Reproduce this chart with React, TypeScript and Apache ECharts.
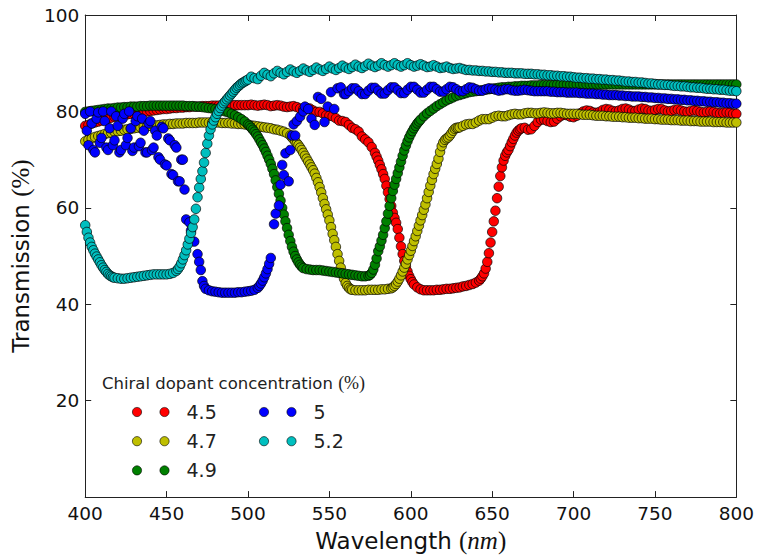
import { useEffect, useRef } from "react";
import * as echarts from "echarts";

// ---- Data: [wavelength (nm), transmission (%)] ----
const SERIES_NAMES = ["4.5", "4.7", "4.9", "5", "5.2"];
const SERIES_COLORS = ["#ff0000", "#bfbf00", "#008000", "#0000ff", "#00bfbf"];
const X_TICKS = [400, 450, 500, 550, 600, 650, 700, 750, 800];
const Y_TICKS = [0, 20, 40, 60, 80, 100];

const RED = [
  [400,77.0],[402,77.2],[404,77.5],[406,77.7],[408,77.9],[410,78.1],[412,78.3],[414,78.5],[416,78.7],[418,78.9],
  [420,79.0],[422,79.2],[424,79.3],[426,79.4],[428,79.5],[430,79.6],[432,79.7],[434,79.8],[436,79.9],[438,80.0],
  [440,80.1],[442,80.2],[444,80.3],[446,80.4],[448,80.5],[450,80.5],[452,80.6],[454,80.7],[456,80.7],[458,80.8],
  [460,80.8],[462,80.9],[464,80.9],[466,81.0],[468,81.0],[470,81.0],[472,81.1],[474,81.1],[476,81.1],[478,81.2],
  [480,81.2],[482,81.2],[484,81.2],[486,81.2],[488,81.3],[490,81.3],[492,81.3],[494,81.3],[496,81.3],[498,81.3],
  [500,81.3],[502,81.4],[504,81.3],[506,81.2],[508,81.3],[510,81.4],[512,81.3],[514,81.1],[516,81.2],[518,81.3],
  [520,81.2],[522,81.0],[524,80.9],[526,81.0],[528,81.1],[530,80.9],[532,80.6],[534,80.5],[536,80.7],[538,80.6],
  [540,80.2],[542,79.9],[544,79.9],[546,79.6],[548,79.2],[550,79.1],[552,79.0],[554,78.6],[556,78.1],[558,78.0],
  [560,77.8],[562,77.2],[564,76.6],[566,76.3],[568,75.8],[570,74.8],[572,74.2],[574,73.6],[576,72.6],[578,71.4],
  [579,70.6],[580,69.8],[581,68.9],[582,68.0],[583,67.0],[584,66.0],[585,64.6],[586,63.2],[587,61.8],[588,60.4],
  [589,59.0],[590,57.9],[591,56.9],[592,55.6],[593,53.8],[594,52.0],[595,50.4],[596,49.0],[597,47.8],[598,46.8],
  [599,45.9],[600,45.2],[601,44.6],[602,44.1],[604,43.5],[606,43.1],[608,42.9],[610,42.9],[612,42.9],[614,42.9],
  [616,43.0],[618,43.0],[620,43.1],[622,43.2],[624,43.2],[626,43.3],[628,43.4],[630,43.5],[632,43.7],[634,43.8],
  [636,44.0],[638,44.2],[640,44.5],[642,44.9],[643,45.3],[644,45.8],[645,46.4],[646,47.4],[647,48.8],[648,50.6],
  [649,52.8],[650,55.0],[651,57.2],[652,59.4],[653,62.0],[654,64.4],[655,66.6],[656,68.4],[657,69.8],[658,70.8],
  [659,71.5],[660,72.0],[661,72.8],[662,73.6],[663,74.3],[664,75.0],[665,75.6],[666,76.0],[667,76.3],[668,76.5],
  [670,76.6],[672,76.2],[674,76.3],[676,77.0],[678,77.8],[680,78.3],[682,78.3],[684,78.0],[686,77.8],[688,77.9],
  [690,78.5],[692,79.0],[694,79.3],[696,79.2],[698,78.9],[700,78.8],[702,79.1],[704,79.6],[706,80.0],[708,80.2],
  [710,80.1],[712,79.8],[714,79.7],[716,79.9],[718,80.3],[720,80.5],[722,80.4],[724,80.1],[726,80.0],[728,80.2],
  [730,80.5],[732,80.6],[734,80.4],[736,80.1],[738,80.1],[740,80.4],[742,80.6],[744,80.5],[746,80.2],[748,80.1],
  [750,80.3],[752,80.5],[754,80.5],[756,80.2],[758,80.0],[760,80.1],[762,80.3],[764,80.4],[766,80.2],[768,80.0],
  [770,79.9],[772,80.1],[774,80.2],[776,80.1],[778,79.9],[780,79.8],[782,79.9],[784,80.0],[786,79.9],[788,79.7],
  [790,79.6],[792,79.7],[794,79.8],[796,79.7],[798,79.5],[800,79.5],
];

const YELLOW = [
  [400,73.8],[402,74.1],[404,74.4],[406,74.7],[408,74.9],[410,75.1],[412,75.3],[414,75.5],[416,75.6],[418,75.8],
  [420,75.9],[422,76.0],[424,76.2],[426,76.3],[428,76.4],[430,76.5],[432,76.6],[434,76.7],[436,76.8],[438,76.9],
  [440,77.0],[442,77.1],[444,77.1],[446,77.2],[448,77.3],[450,77.3],[452,77.4],[454,77.4],[456,77.5],[458,77.5],
  [460,77.5],[462,77.6],[464,77.6],[466,77.6],[468,77.6],[470,77.7],[472,77.7],[474,77.7],[476,77.7],[478,77.7],
  [480,77.7],[482,77.7],[484,77.6],[486,77.6],[488,77.6],[490,77.5],[492,77.5],[494,77.4],[496,77.4],[498,77.3],
  [500,77.2],[502,77.1],[504,77.0],[506,76.9],[508,76.8],[510,76.7],[512,76.6],[514,76.5],[516,76.3],[518,76.2],
  [520,76.0],[522,75.8],[524,75.5],[526,75.0],[527,74.6],[528,74.2],[529,73.8],[530,73.4],[531,73.0],[532,72.5],
  [533,72.0],[534,71.4],[535,70.8],[536,70.2],[537,69.6],[538,69.0],[539,68.4],[540,67.8],[541,67.1],[542,66.2],
  [543,65.3],[544,64.3],[545,63.2],[546,62.0],[547,60.8],[548,59.7],[549,58.6],[550,57.4],[551,56.0],[552,54.6],
  [553,53.3],[554,51.9],[555,50.4],[556,49.0],[557,47.6],[558,46.4],[559,45.3],[560,44.4],[561,43.8],[562,43.4],
  [563,43.1],[564,43.0],[566,42.9],[568,42.9],[570,42.9],[572,42.9],[574,43.0],[576,43.0],[578,43.0],[580,43.0],
  [582,43.1],[584,43.1],[586,43.2],[588,43.3],[589,43.5],[590,43.8],[591,44.2],[592,44.7],[593,45.3],[594,46.0],
  [595,46.8],[596,47.6],[597,48.4],[598,49.3],[599,50.2],[600,51.1],[601,52.1],[602,53.1],[603,54.1],[604,55.2],
  [605,56.3],[606,57.4],[607,58.5],[608,59.6],[609,60.7],[610,62.0],[611,63.3],[612,64.6],[613,65.8],[614,67.0],
  [615,68.1],[616,69.1],[617,70.2],[618,71.6],[619,72.8],[620,73.6],[621,74.1],[622,74.4],[623,74.6],[624,75.0],
  [625,75.5],[626,76.0],[627,76.4],[628,76.6],[629,76.6],[630,76.7],[632,77.0],[634,77.3],[636,77.4],[638,77.4],
  [640,77.7],[642,78.1],[644,78.4],[646,78.4],[648,78.4],[650,78.7],[652,79.0],[654,79.1],[656,79.0],[658,79.0],
  [660,79.2],[662,79.4],[664,79.5],[666,79.4],[668,79.4],[670,79.6],[672,79.7],[674,79.7],[676,79.6],[678,79.6],
  [680,79.7],[682,79.8],[684,79.7],[686,79.6],[688,79.6],[690,79.7],[692,79.7],[694,79.6],[696,79.5],[698,79.5],
  [700,79.5],[702,79.5],[704,79.4],[706,79.3],[708,79.3],[710,79.3],[712,79.2],[714,79.1],[716,79.1],[718,79.1],
  [720,79.0],[722,79.0],[724,78.9],[726,78.9],[728,78.9],[730,78.8],[732,78.8],[734,78.7],[736,78.7],[738,78.7],
  [740,78.6],[742,78.6],[744,78.5],[746,78.5],[748,78.5],[750,78.4],[752,78.4],[754,78.3],[756,78.3],[758,78.3],
  [760,78.2],[762,78.2],[764,78.2],[766,78.1],[768,78.1],[770,78.1],[772,78.0],[774,78.0],[776,78.0],[778,77.9],
  [780,77.9],[782,77.9],[784,77.9],[786,77.8],[788,77.8],[790,77.8],[792,77.8],[794,77.7],[796,77.7],[798,77.7],
  [800,77.7],
];

const GREEN = [
  [400,79.9],[402,80.0],[404,80.1],[406,80.2],[408,80.3],[410,80.4],[412,80.5],[414,80.6],[416,80.6],[418,80.7],
  [420,80.8],[422,80.8],[424,80.9],[426,80.9],[428,81.0],[430,81.0],[432,81.0],[434,81.1],[436,81.1],[438,81.1],
  [440,81.2],[442,81.2],[444,81.2],[446,81.2],[448,81.2],[450,81.2],[452,81.2],[454,81.2],[456,81.2],[458,81.2],
  [460,81.2],[462,81.1],[464,81.1],[466,81.1],[468,81.0],[470,81.0],[472,80.9],[474,80.8],[476,80.7],[478,80.6],
  [480,80.5],[482,80.4],[484,80.2],[486,80.0],[488,79.8],[490,79.5],[492,79.2],[494,78.8],[496,78.4],[498,77.9],
  [500,77.3],[501,77.0],[502,76.6],[503,76.2],[504,75.8],[505,75.3],[506,74.8],[507,74.2],[508,73.6],[509,73.0],
  [510,72.3],[511,71.6],[512,70.8],[513,70.0],[514,69.1],[515,68.1],[516,67.0],[517,65.7],[518,64.3],[519,62.9],
  [520,61.5],[521,60.0],[522,58.6],[523,57.2],[524,55.8],[525,54.4],[526,53.1],[527,51.9],[528,50.9],[529,50.0],
  [530,49.3],[531,48.7],[532,48.2],[533,47.8],[534,47.5],[536,47.3],[538,47.2],[540,47.1],[542,47.1],[544,47.1],
  [546,47.0],[548,46.9],[550,46.8],[552,46.7],[554,46.6],[556,46.5],[558,46.4],[560,46.3],[562,46.2],[564,46.1],
  [566,46.0],[568,45.9],[570,45.8],[572,45.8],[574,45.9],[575,46.1],[576,46.5],[577,47.2],[578,48.2],[579,49.5],
  [580,51.0],[581,52.0],[582,53.2],[583,54.4],[584,55.8],[585,57.2],[586,58.8],[587,60.4],[588,62.0],[589,63.5],
  [590,64.8],[591,66.0],[592,67.2],[593,68.4],[594,69.6],[595,70.8],[596,71.9],[597,72.9],[598,73.8],[599,74.6],
  [600,75.3],[601,75.9],[602,76.5],[603,77.0],[604,77.5],[605,77.9],[606,78.3],[608,79.0],[610,79.6],[612,80.1],
  [614,80.6],[616,81.1],[618,81.5],[620,81.9],[622,82.3],[624,82.6],[626,82.9],[628,83.2],[630,83.4],[632,83.6],
  [634,83.8],[636,84.0],[638,84.1],[640,84.2],[642,84.3],[644,84.4],[646,84.5],[648,84.6],[650,84.7],[652,84.8],
  [654,84.9],[656,85.0],[658,85.0],[660,85.1],[662,85.1],[664,85.2],[666,85.2],[668,85.3],[670,85.3],[672,85.3],
  [674,85.4],[676,85.4],[678,85.4],[680,85.5],[682,85.5],[684,85.5],[686,85.5],[688,85.5],[690,85.6],[692,85.6],
  [694,85.6],[696,85.6],[698,85.6],[700,85.6],[702,85.6],[704,85.6],[706,85.6],[708,85.6],[710,85.6],[712,85.6],
  [714,85.6],[716,85.6],[718,85.6],[720,85.6],[722,85.6],[724,85.6],[726,85.6],[728,85.6],[730,85.6],[732,85.6],
  [734,85.6],[736,85.6],[738,85.6],[740,85.6],[742,85.6],[744,85.6],[746,85.6],[748,85.6],[750,85.6],[752,85.6],
  [754,85.6],[756,85.6],[758,85.6],[760,85.6],[762,85.6],[764,85.6],[766,85.6],[768,85.6],[770,85.6],[772,85.6],
  [774,85.6],[776,85.6],[778,85.6],[780,85.6],[782,85.6],[784,85.6],[786,85.6],[788,85.6],[790,85.6],[792,85.6],
  [794,85.6],[796,85.6],[798,85.6],[800,85.6],
];

const BLUE = [
  [400,79.5],[401,76.0],[402,73.0],[403,80.0],[404,77.5],[405,72.0],[406,71.5],[407,78.5],[408,79.8],[409,73.5],
  [410,74.5],[411,80.0],[412,78.0],[413,72.5],[414,72.0],[415,76.5],[416,80.0],[417,73.0],[418,74.0],[419,79.0],
  [420,77.0],[421,71.5],[422,72.0],[423,78.5],[424,79.5],[425,73.0],[426,74.5],[427,80.0],[428,76.5],[429,71.8],
  [430,72.5],[431,78.0],[432,79.0],[433,72.8],[434,73.5],[435,78.5],[436,76.0],[437,71.5],[438,71.5],[439,77.5],
  [440,78.0],[441,72.0],[442,72.5],[443,76.0],[444,75.0],[445,70.5],[446,70.0],[447,76.8],[448,76.5],[449,69.0],
  [450,68.8],[451,74.4],[452,74.0],[453,67.0],[454,66.8],[455,73.0],[456,72.5],[457,65.5],[458,65.5],[459,70.0],
  [460,70.0],[461,63.8],[462,57.6],[464,57.0],[465,55.3],[467,53.0],[469,50.4],[470,48.8],[471,47.1],[472,44.8],
  [473,43.8],[474,43.2],[476,42.9],[478,42.7],[480,42.6],[482,42.5],[484,42.4],[486,42.4],[488,42.4],[490,42.4],
  [492,42.4],[494,42.5],[496,42.5],[498,42.6],[500,42.7],[502,42.8],[504,43.0],[506,43.4],[507,43.8],[508,44.3],
  [509,44.9],[510,45.6],[511,46.4],[512,47.3],[513,48.4],[514,49.6],[516,56.6],[517,58.8],[519,60.5],[520,64.8],
  [521,68.9],[522,66.8],[523,71.3],[525,65.5],[526,72.0],[527,75.0],[528,77.3],[529,75.0],[530,78.0],[532,78.9],
  [534,80.0],[535,81.0],[537,80.5],[539,78.5],[541,77.2],[543,83.0],[545,82.6],[547,77.8],[549,81.0],[551,84.0],
  [553,80.5],[555,84.8],[557,85.0],[559,83.6],[560,83.6],[562,84.2],[564,84.8],[566,84.8],[568,84.2],[570,83.6],
  [572,83.6],[574,84.3],[576,84.9],[578,84.9],[580,84.3],[582,83.7],[584,83.7],[586,84.4],[588,85.0],[590,85.0],
  [592,84.4],[594,83.8],[596,83.8],[598,84.5],[600,85.1],[602,85.1],[604,84.5],[606,83.9],[608,83.9],[610,84.5],
  [612,85.1],[614,85.1],[616,84.6],[618,84.1],[620,84.1],[622,84.6],[624,85.1],[626,85.0],[628,84.6],[630,84.2],
  [632,84.2],[634,84.6],[636,85.0],[638,84.9],[640,84.6],[642,84.3],[644,84.3],[646,84.6],[648,84.8],[650,84.7],
  [652,84.5],[654,84.3],[656,84.4],[658,84.6],[660,84.6],[662,84.4],[664,84.3],[666,84.3],[668,84.4],[670,84.5],
  [672,84.4],[674,84.3],[676,84.2],[678,84.2],[680,84.2],[682,84.2],[684,84.2],[686,84.1],[688,84.1],[690,84.0],
  [692,84.0],[694,84.0],[696,83.9],[698,83.9],[700,83.9],[702,83.9],[704,83.8],[706,83.8],[708,83.7],[710,83.7],
  [712,83.7],[714,83.6],[716,83.6],[718,83.5],[720,83.5],[722,83.4],[724,83.4],[726,83.4],[728,83.3],[730,83.3],
  [732,83.2],[734,83.2],[736,83.1],[738,83.1],[740,83.1],[742,83.0],[744,83.0],[746,82.9],[748,82.9],[750,82.8],
  [752,82.8],[754,82.7],[756,82.7],[758,82.6],[760,82.6],[762,82.5],[764,82.5],[766,82.4],[768,82.4],[770,82.3],
  [772,82.3],[774,82.2],[776,82.2],[778,82.1],[780,82.1],[782,82.0],[784,82.0],[786,81.9],[788,81.9],[790,81.8],
  [792,81.8],[794,81.7],[796,81.7],[798,81.6],[800,81.6],
];

const CYAN = [
  [400,56.4],[401,55.0],[402,53.8],[403,52.8],[404,51.9],[405,51.2],[406,50.5],[407,49.9],[408,49.3],[409,48.7],
  [410,48.1],[411,47.6],[412,47.1],[413,46.7],[414,46.3],[415,46.0],[416,45.8],[417,45.6],[418,45.5],[420,45.4],
  [422,45.3],[424,45.3],[426,45.4],[428,45.5],[430,45.6],[432,45.7],[434,45.8],[436,45.9],[438,46.0],[440,46.1],
  [442,46.2],[444,46.2],[446,46.2],[448,46.2],[450,46.2],[452,46.3],[454,46.5],[456,46.9],[457,47.3],[458,47.8],
  [459,48.5],[460,49.3],[461,50.2],[462,51.2],[463,52.4],[464,53.6],[465,54.8],[466,56.0],[467,57.6],[468,59.8],
  [469,62.2],[470,64.2],[471,66.0],[472,67.6],[473,69.4],[474,71.4],[475,73.3],[476,75.0],[477,76.3],[478,77.3],
  [479,78.1],[480,78.8],[481,79.5],[482,80.1],[483,80.7],[484,81.2],[485,81.7],[486,82.1],[487,82.5],[488,82.9],
  [489,83.3],[490,83.7],[491,84.1],[492,84.5],[493,84.9],[494,85.2],[495,85.5],[496,85.8],[497,86.0],[498,86.2],
  [499,86.4],[500,86.6],[502,87.2],[504,86.9],[506,86.7],[508,87.4],[510,88.0],[512,87.6],[514,87.3],[516,87.9],
  [518,88.4],[520,88.0],[522,87.7],[524,88.2],[526,88.7],[528,88.3],[530,88.0],[532,88.4],[534,88.9],[536,88.5],
  [538,88.2],[540,88.6],[542,89.1],[544,88.7],[546,88.4],[548,88.8],[550,89.3],[552,88.9],[554,88.6],[556,89.0],
  [558,89.5],[560,89.1],[562,88.8],[564,89.2],[566,89.7],[568,89.3],[570,89.0],[572,89.4],[574,89.9],[576,89.5],
  [578,89.2],[580,89.5],[582,90.0],[584,89.6],[586,89.3],[588,89.6],[590,90.0],[592,89.6],[594,89.3],[596,89.6],
  [598,90.0],[600,89.6],[602,89.3],[604,89.5],[606,89.8],[608,89.5],[610,89.2],[612,89.3],[614,89.6],[616,89.3],
  [618,89.0],[620,89.1],[622,89.3],[624,89.0],[626,88.8],[628,88.9],[630,89.0],[632,88.8],[634,88.6],[636,88.6],
  [638,88.5],[640,88.5],[642,88.4],[644,88.4],[646,88.3],[648,88.3],[650,88.2],[652,88.2],[654,88.1],[656,88.1],
  [658,88.0],[660,88.0],[662,88.0],[664,87.9],[666,87.9],[668,87.9],[670,87.8],[672,87.8],[674,87.8],[676,87.7],
  [678,87.7],[680,87.6],[682,87.6],[684,87.5],[686,87.5],[688,87.4],[690,87.4],[692,87.3],[694,87.3],[696,87.2],
  [698,87.2],[700,87.1],[702,87.0],[704,87.0],[706,86.9],[708,86.9],[710,86.8],[712,86.8],[714,86.7],[716,86.7],
  [718,86.6],[720,86.6],[722,86.5],[724,86.5],[726,86.4],[728,86.4],[730,86.3],[732,86.2],[734,86.2],[736,86.1],
  [738,86.1],[740,86.0],[742,86.0],[744,85.9],[746,85.8],[748,85.8],[750,85.7],[752,85.6],[754,85.6],[756,85.5],
  [758,85.5],[760,85.4],[762,85.3],[764,85.3],[766,85.2],[768,85.2],[770,85.1],[772,85.0],[774,85.0],[776,84.9],
  [778,84.9],[780,84.8],[782,84.7],[784,84.7],[786,84.6],[788,84.6],[790,84.5],[792,84.5],[794,84.4],[796,84.3],
  [798,84.3],[800,84.2],
];

const SERIES_DATA = [RED, YELLOW, GREEN, BLUE, CYAN];

const SANS = "DejaVu Sans";
const SERIF = "Liberation Serif";
const AXIS_COLOR = "#222";

function buildOption() {
  const common = {
    axisLine: { show: true, onZero: false, lineStyle: { color: AXIS_COLOR, width: 1 } },
    axisTick: { show: true, inside: true, length: 6, lineStyle: { color: AXIS_COLOR, width: 1 } },
    splitLine: { show: false },
  };
  const xBase = { type: "value", min: X_TICKS[0], max: X_TICKS[X_TICKS.length - 1], interval: X_TICKS[1] - X_TICKS[0], ...common };
  const yBase = { type: "value", min: Y_TICKS[0], max: Y_TICKS[Y_TICKS.length - 1], interval: Y_TICKS[1] - Y_TICKS[0], ...common };

  // Legend drawn as graphic (two markers per entry, two columns)
  const legendEls: any[] = [];
  legendEls.push({
    type: "text",
    left: 102,
    top: 374,
    style: {
      text: "Chiral dopant concentration {m|(%)}",
      fontFamily: SANS,
      fontSize: 16.5,
      fill: "#222",
      rich: { m: { fontFamily: SERIF, fontSize: 18, fill: "#222" } },
    },
  });
  SERIES_NAMES.forEach((name, i) => {
    const col = i < 3 ? 0 : 1;
    const row = i < 3 ? i : i - 3;
    const x0 = col === 0 ? 137 : 264;
    const y0 = 412 + row * 29.2;
    [0, 27.5].forEach((dx) => {
      legendEls.push({
        type: "circle",
        shape: { cx: x0 + dx, cy: y0, r: 4.6 },
        style: { fill: SERIES_COLORS[i], stroke: "#000", lineWidth: 0.6 },
      });
    });
    legendEls.push({
      type: "text",
      x: x0 + 49.5,
      y: y0,
      style: { text: name, fontFamily: SANS, fontSize: 19, fill: "#222", verticalAlign: "middle", textAlign: "left" },
    });
  });

  return {
    animation: false,
    backgroundColor: "#ffffff",
    grid: { left: 83, right: 20, top: 15, bottom: 55, containLabel: false },
    xAxis: [
      {
        ...xBase,
        position: "bottom",
        axisLabel: { show: true, fontFamily: SANS, fontSize: 18.5, color: "#111", margin: 7 },
        name: "Wavelength {p|(}{i|nm}{p|)}",
        nameLocation: "middle",
        nameGap: 29,
        nameTextStyle: {
          fontFamily: SANS,
          fontSize: 23,
          color: "#111",
          rich: {
            p: { fontFamily: SERIF, fontSize: 25, color: "#111" },
            i: { fontFamily: SERIF, fontStyle: "italic", fontSize: 25, color: "#111" },
          },
        },
      },
      { ...xBase, position: "top", axisLabel: { show: false } },
    ],
    yAxis: [
      {
        ...yBase,
        position: "left",
        axisLabel: {
          show: true,
          fontFamily: SANS,
          fontSize: 18.5,
          color: "#111",
          margin: 6,
          formatter: (v: number) => (v === 0 ? "" : String(v)),
        },
        name: "Transmission {p|(%)}",
        nameLocation: "middle",
        nameGap: 47,
        nameTextStyle: {
          fontFamily: SANS,
          fontSize: 23,
          color: "#111",
          rich: { p: { fontFamily: SERIF, fontSize: 25, color: "#111" } },
        },
      },
      { ...yBase, position: "right", axisLabel: { show: false } },
    ],
    series: SERIES_DATA.map((data, i) => ({
      name: SERIES_NAMES[i],
      type: "scatter",
      xAxisIndex: 0,
      yAxisIndex: 0,
      data,
      symbol: "circle",
      symbolSize: 9.5,
      silent: true,
      itemStyle: { color: SERIES_COLORS[i], borderColor: "#000", borderWidth: 0.7, opacity: 1 },
      emphasis: { disabled: true },
    })),
    graphic: legendEls,
  };
}

export default function App() {
  const ref = useRef<HTMLDivElement>(null);
  useEffect(() => {
    if (!ref.current) return;
    const chart = echarts.init(ref.current, null, { renderer: "svg" });
    chart.setOption(buildOption() as any);
    return () => chart.dispose();
  }, []);
  return (
    <div
      ref={ref}
      style={{ position: "absolute", left: 0, top: 0, width: 757, height: 558, background: "#ffffff" }}
    />
  );
}
